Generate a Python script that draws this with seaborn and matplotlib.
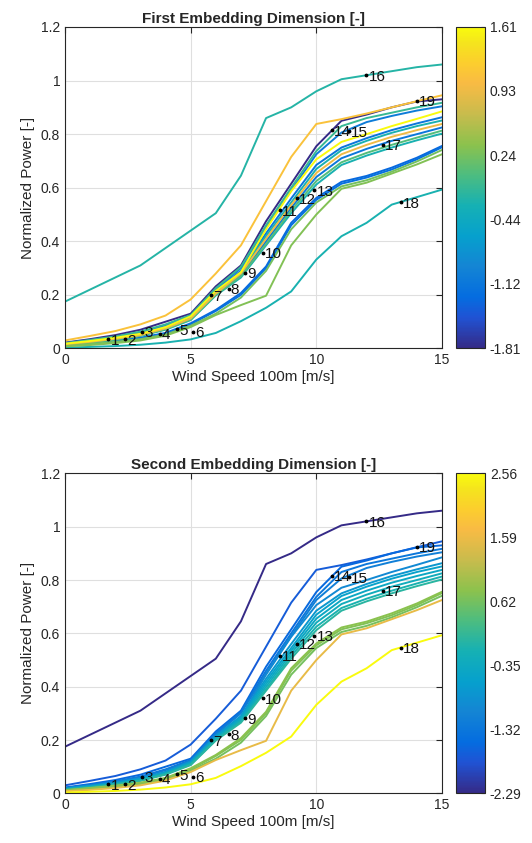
import numpy as np
import pandas as pd
import matplotlib
matplotlib.use("Agg")
import matplotlib.pyplot as plt
from matplotlib.colors import LinearSegmentedColormap, Normalize
from matplotlib.cm import ScalarMappable
import seaborn as sns

# wind speed bins (x axis)
wind_speed = [0, 1, 2, 3, 4, 5, 6, 7, 8, 9, 10, 11, 12, 13, 14, 15]

# normalized power curves, one per line
curves = [
    [0.175, 0.22, 0.265, 0.31, 0.375, 0.44, 0.505, 0.645, 0.86, 0.90, 0.96, 1.005, 1.02, 1.035, 1.05, 1.06],
    [0.03, 0.047, 0.065, 0.09, 0.123, 0.183, 0.28, 0.385, 0.55, 0.715, 0.838, 0.856, 0.877, 0.90, 0.923, 0.945],
    [0.022, 0.035, 0.05, 0.07, 0.10, 0.13, 0.232, 0.31, 0.475, 0.615, 0.755, 0.85, 0.873, 0.90, 0.922, 0.93],
    [0.02, 0.032, 0.045, 0.063, 0.09, 0.125, 0.225, 0.305, 0.46, 0.60, 0.737, 0.83, 0.86, 0.88, 0.90, 0.917],
    [0.02, 0.03, 0.043, 0.06, 0.087, 0.122, 0.22, 0.30, 0.45, 0.59, 0.725, 0.806, 0.845, 0.868, 0.888, 0.904],
    [0.018, 0.028, 0.04, 0.055, 0.08, 0.12, 0.215, 0.285, 0.445, 0.587, 0.706, 0.771, 0.80, 0.83, 0.857, 0.885],
    [0.018, 0.028, 0.04, 0.056, 0.08, 0.118, 0.215, 0.29, 0.43, 0.56, 0.685, 0.75, 0.785, 0.815, 0.84, 0.863],
    [0.016, 0.026, 0.037, 0.052, 0.077, 0.115, 0.21, 0.285, 0.42, 0.545, 0.67, 0.74, 0.775, 0.805, 0.83, 0.851],
    [0.016, 0.025, 0.036, 0.05, 0.075, 0.112, 0.205, 0.28, 0.41, 0.535, 0.655, 0.725, 0.76, 0.79, 0.815, 0.838],
    [0.015, 0.024, 0.035, 0.049, 0.073, 0.11, 0.205, 0.275, 0.40, 0.525, 0.64, 0.71, 0.745, 0.775, 0.80, 0.825],
    [0.014, 0.023, 0.034, 0.048, 0.072, 0.108, 0.20, 0.27, 0.39, 0.515, 0.625, 0.695, 0.73, 0.76, 0.787, 0.813],
    [0.014, 0.022, 0.033, 0.047, 0.07, 0.106, 0.198, 0.265, 0.385, 0.505, 0.612, 0.685, 0.72, 0.75, 0.777, 0.802],
    [0.012, 0.02, 0.029, 0.04, 0.058, 0.094, 0.144, 0.207, 0.306, 0.469, 0.562, 0.622, 0.644, 0.675, 0.712, 0.756],
    [0.011, 0.019, 0.027, 0.038, 0.056, 0.09, 0.14, 0.20, 0.30, 0.46, 0.555, 0.615, 0.638, 0.668, 0.706, 0.751],
    [0.01, 0.017, 0.025, 0.035, 0.052, 0.085, 0.13, 0.19, 0.29, 0.445, 0.545, 0.605, 0.628, 0.66, 0.698, 0.741],
    [0.008, 0.013, 0.02, 0.03, 0.048, 0.08, 0.125, 0.162, 0.197, 0.385, 0.50, 0.596, 0.619, 0.653, 0.687, 0.725],
    [0.003, 0.006, 0.009, 0.014, 0.022, 0.034, 0.058, 0.102, 0.152, 0.213, 0.332, 0.419, 0.469, 0.537, 0.565, 0.593],
]

# embedding values of each curve
dim1 = [-0.2, 1.1, -1.81, -0.1, -1.06, 1.61, -1.13, -0.27, 0.93, -1.12, 0.07, -0.27, -1.3, -1.2, 0.24, 0.31, -0.27]
dim2 = [-2.29, -1.71, -1.56, -1.32, -1.17, -0.98, -0.74, -0.54, -0.40, -0.25, -0.11, 0.04, 0.77, 0.72, 0.62, 1.55, 2.56]

dim1_ticks = [-1.81, -1.12, -0.44, 0.24, 0.93, 1.61]
dim2_ticks = [-2.29, -1.32, -0.35, 0.62, 1.59, 2.56]

# labelled sample points
point_x = [1.73, 2.39, 3.08, 3.76, 4.45, 5.11, 5.80, 6.51, 7.17, 7.88,
           8.54, 9.23, 9.92, 10.62, 11.3, 11.99, 12.66, 13.35, 14.01]
point_y = [0.034, 0.034, 0.063, 0.054, 0.072, 0.063, 0.199, 0.222, 0.282, 0.357,
           0.516, 0.56, 0.59, 0.815, 0.81, 1.02, 0.76, 0.546, 0.924]
point_labels = [str(i) for i in range(1, 20)]

# parula-like colormap (MATLAB default)
parula = LinearSegmentedColormap.from_list("parula", [
    (0 / 63, (0.2081, 0.1663, 0.5292)),
    (6 / 63, (0.1253, 0.3242, 0.8303)),
    (10 / 63, (0.0165, 0.4266, 0.8786)),
    (16 / 63, (0.0793, 0.5200, 0.8312)),
    (22 / 63, (0.0239, 0.6287, 0.8038)),
    (28 / 63, (0.0843, 0.6928, 0.7062)),
    (34 / 63, (0.3000, 0.7400, 0.5000)),
    (40 / 63, (0.5500, 0.7600, 0.3000)),
    (46 / 63, (0.7858, 0.7356, 0.3000)),
    (52 / 63, (0.9739, 0.7314, 0.2666)),
    (56 / 63, (0.9880, 0.8066, 0.1794)),
    (60 / 63, (0.9589, 0.8949, 0.1132)),
    (63 / 63, (0.9763, 0.9831, 0.0538)),
])

rows = []
for k, c in enumerate(curves):
    for ws, p in zip(wind_speed, c):
        rows.append({"line": k, "wind": ws, "power": p, "dim1": dim1[k], "dim2": dim2[k]})
df = pd.DataFrame(rows)

sns.set_style("white")
plt.rcParams["font.family"] = ["Liberation Sans", "DejaVu Sans"]

fig = plt.figure(figsize=(5.32, 8.43), dpi=100)
ax1 = fig.add_axes([0.1222, 0.5866, 0.7086, 0.3814])
cax1 = fig.add_axes([0.857, 0.5866, 0.0545, 0.3814])
ax2 = fig.add_axes([0.1222, 0.0589, 0.7086, 0.3796])
cax2 = fig.add_axes([0.857, 0.0589, 0.0545, 0.3796])

panels = [
    (ax1, cax1, "dim1", dim1_ticks, "First Embedding Dimension [-]"),
    (ax2, cax2, "dim2", dim2_ticks, "Second Embedding Dimension [-]"),
]

for ax, cax, col, ticks, title in panels:
    norm = Normalize(vmin=ticks[0], vmax=ticks[-1])
    sns.lineplot(data=df, x="wind", y="power", hue=col, units="line", estimator=None,
                 palette=parula, hue_norm=norm, legend=False, linewidth=1.4, ax=ax)
    ax.plot(point_x, point_y, "k.", markersize=3.5)
    for px, py, lab in zip(point_x, point_y, point_labels):
        ax.annotate(lab, (px, py), xytext=(1.5, -1), textcoords="offset points",
                    fontsize=11, va="center", ha="left", color="#111111")
    ax.set_xlim(0, 15)
    ax.set_ylim(0, 1.2)
    ax.set_xticks([0, 5, 10, 15])
    ax.set_yticks([0, 0.2, 0.4, 0.6, 0.8, 1.0, 1.2])
    ax.set_yticklabels(["0", "0.2", "0.4", "0.6", "0.8", "1", "1.2"])
    ax.grid(True, color="#dfdfdf", linewidth=0.8)
    ax.set_axisbelow(True)
    ax.tick_params(direction="in", length=4, labelsize=10, top=True, right=True,
                   color="#262626", labelcolor="#262626")
    for s in ax.spines.values():
        s.set_color("#262626")
        s.set_linewidth(0.8)
    ax.set_xlabel("Wind Speed 100m [m/s]", fontsize=11, color="#262626", labelpad=2)
    ax.set_ylabel("Normalized Power [-]", fontsize=11, color="#262626", labelpad=4)
    ax.set_title(title, fontsize=11, fontweight="bold", pad=3)

    cb = fig.colorbar(ScalarMappable(norm=norm, cmap=parula), cax=cax, ticks=ticks)
    cb.ax.set_yticklabels([f"{t:.2f}" for t in ticks])
    cb.ax.tick_params(direction="in", length=3, labelsize=10, color="#262626",
                      labelcolor="#262626")
    cb.outline.set_linewidth(0.8)
    cb.outline.set_edgecolor("#262626")

fig.savefig("out.png", dpi=100)
